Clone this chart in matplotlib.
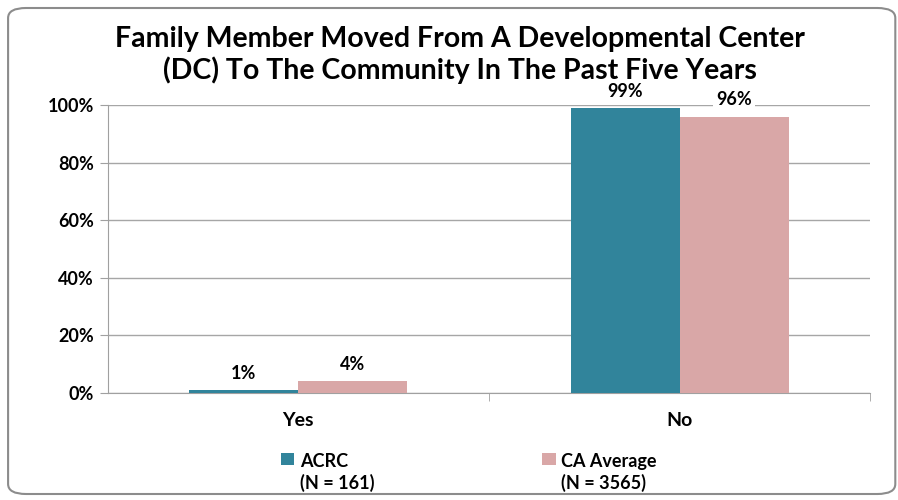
import numpy as np
import matplotlib.pyplot as plt
from matplotlib.patches import FancyBboxPatch

categories = ['Yes', 'No']
acrc = [1, 99]
ca_avg = [4, 96]
series_names = ['ACRC\n(N = 161)', 'CA Average\n(N = 3565)']
yticks = [0, 20, 40, 60, 80, 100]

teal = '#31849B'
pink = '#D9A7A7'

plt.rcParams['font.family'] = ['Lato', 'DejaVu Sans']
plt.rcParams['font.weight'] = 'bold'

fig = plt.figure(figsize=(8.98, 5.0), dpi=100)
ax = fig.add_axes([0.120, 0.214, 0.849, 0.576])

# rounded frame around the whole chart
frame = FancyBboxPatch((0.009, 0.012), 0.988, 0.972, boxstyle='round,pad=0,rounding_size=0.02',
                       transform=fig.transFigure, facecolor='none', edgecolor='#8C8C8C',
                       linewidth=1.5, zorder=0)
fig.patches.append(frame)

x = np.arange(len(categories))
w = 0.286
b1 = ax.bar(x - w / 2, acrc, w, color=teal, label=series_names[0], zorder=3)
b2 = ax.bar(x + w / 2, ca_avg, w, color=pink, label=series_names[1], zorder=3)

for bars, vals in [(b1, acrc), (b2, ca_avg)]:
    for rect, v in zip(bars, vals):
        ax.annotate(f'{v}%', (rect.get_x() + rect.get_width() / 2, v), xytext=(0, 12),
                    textcoords='offset points', ha='center', va='center',
                    fontsize=13, fontweight='bold', zorder=4,
                    bbox=dict(facecolor='white', edgecolor='none', pad=2))

ax.set_xlim(-0.5, 1.5)
ax.set_ylim(0, 100)
ax.set_yticks(yticks)
ax.set_yticklabels([f'{t}%' for t in yticks], fontsize=13, fontweight='bold')
ax.set_xticks(x)
ax.set_xticklabels(categories, fontsize=14, fontweight='bold')
ax.set_xticks([0.5, 1.5], minor=True)
ax.tick_params(axis='x', which='major', length=0, pad=14)
ax.tick_params(axis='x', which='minor', length=6, color='#A0A0A0')
ax.tick_params(axis='y', length=6, color='#A0A0A0', pad=4)
ax.yaxis.grid(True, color='#A6A6A6', linewidth=1)
ax.set_axisbelow(True)
for s in ['top', 'right']:
    ax.spines[s].set_visible(False)
ax.spines['left'].set_color('#A0A0A0')
ax.spines['bottom'].set_color('#A0A0A0')

fig.text(0.512, 0.89, 'Family Member Moved From A Developmental Center\n(DC) To The Community In The Past Five Years',
         ha='center', va='center', fontsize=20.5, fontweight='bold', linespacing=1.2)

leg = fig.legend(handles=[b1, b2], labels=series_names, loc='center', bbox_to_anchor=(0.522, 0.055),
                 ncol=2, frameon=False, fontsize=13, handlelength=0.75, handleheight=0.65,
                 columnspacing=9.3, handletextpad=0.3)
# put the colour square next to the first line of each label
for col in leg._legend_handle_box.get_children():
    for item in col.get_children():
        item.align = 'top'

fig.savefig('out.png', dpi=100)
